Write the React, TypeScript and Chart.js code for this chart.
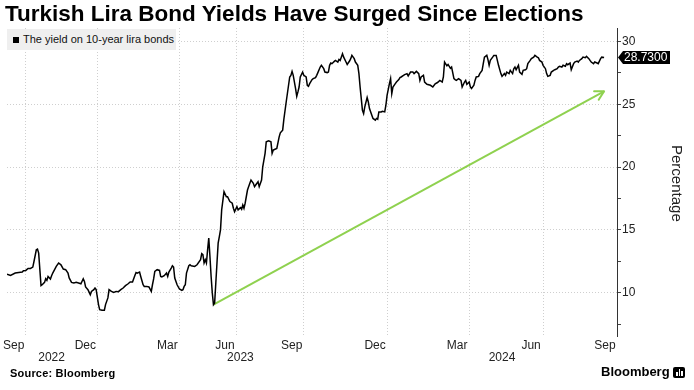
import React, { useEffect, useRef } from 'react';
import { Chart, registerables } from 'chart.js';

Chart.register(...registerables);

const TITLE = 'Turkish Lira Bond Yields Have Surged Since Elections';
const SERIES_LABEL = 'The yield on 10-year lira bonds';
const Y_AXIS_TITLE = 'Percentage';
const SOURCE = 'Source: Bloomberg';
const BRAND = 'Bloomberg';

// observation index (trading-day counter) and 10y lira bond yield, %
const obsIndex = [
  0, 3, 7, 10, 13, 14, 16, 18, 20, 22, 23, 25, 26, 27, 29, 30, 32, 33, 34, 35, 37, 38, 39, 42, 44, 46, 48, 50, 52, 53,
  55, 57, 59, 61, 63, 65, 66, 67, 69, 71, 72, 74, 75, 76, 78, 79, 81, 83, 84, 86, 87, 89, 91, 93, 95, 97, 99, 101, 103, 105,
  107, 109, 110, 111, 113, 114, 116, 117, 119, 121, 123, 124, 125, 126, 128, 130, 131, 132, 134, 136, 137, 138, 140, 141, 142, 143, 145, 147, 149, 150,
  151, 152, 153, 155, 156, 157, 160, 162, 165, 166, 167, 168, 169, 170, 171, 172, 173, 174, 175, 176, 177, 178, 179, 180, 181, 182, 183, 185, 187, 188,
  190, 192, 193, 194, 196, 197, 199, 200, 201, 202, 203, 205, 207, 208, 210, 211, 212, 214, 215, 217, 218, 219, 220, 221, 223, 225, 226, 227, 228, 230,
  232, 233, 235, 236, 238, 241, 242, 243, 244, 246, 247, 248, 249, 250, 252, 253, 255, 256, 257, 258, 260, 261, 263, 264, 265, 267, 268, 270, 271, 273,
  274, 275, 276, 277, 279, 280, 282, 283, 284, 286, 287, 289, 290, 292, 293, 294, 296, 297, 299, 300, 301, 302, 303, 304, 305, 307, 308, 309, 311, 312,
  314, 315, 316, 317, 319, 320, 322, 323, 324, 326, 327, 328, 329, 331, 332, 334, 335, 336, 338, 339, 341, 342, 344, 346, 347, 349, 351, 352, 353, 355,
  356, 358, 361, 363, 365, 367, 369, 371, 372, 373, 375, 376, 378, 379, 381, 382, 383, 385, 387, 388, 390, 391, 392, 394, 395, 396, 398, 399, 400, 402,
  403, 405, 406, 407, 409, 410, 411, 412, 414, 415, 417, 418, 419, 421, 422, 424, 425, 426, 428, 429, 431, 432, 433, 434, 436, 437, 439, 440, 442, 443,
  444, 446, 447, 449, 450, 452, 453, 454, 456, 457, 459, 460, 461, 463, 464, 466, 467, 469, 470, 471, 473, 474, 476, 477, 478, 480, 481, 483, 484, 486,
  487, 488, 490, 491, 493, 494, 496, 497, 498, 500, 501, 503, 504, 506, 507, 509,
];

const yieldPct = [
  11.48, 11.37, 11.56, 11.61, 11.64, 11.75, 11.77, 11.93, 11.93, 12.04, 12.48, 13.41, 13.47, 13.15, 10.56, 10.63, 10.82, 11.11, 10.98, 11.29, 11.09, 11.35, 11.56, 12.09, 12.36, 12.22, 11.88, 11.83, 11.56, 11.17,
  10.82, 10.77, 10.82, 10.77, 10.71, 11.11, 10.9, 10.45, 10.24, 9.84, 10.1, 10.24, 10.37, 10.24, 9.05, 8.65, 8.6, 8.6, 9.05, 9.58, 10.24, 10.1, 10.02, 10.1, 10.08, 10.24, 10.37, 10.56, 10.69, 10.85,
  10.85, 11.37, 11.61, 11.56, 11.64, 11.29, 10.63, 10.5, 10.5, 10.45, 10.1, 10.63, 11.09, 11.69, 11.83, 11.77, 11.29, 11.25, 11.35, 11.56, 11.29, 11.64, 11.96, 12.14, 12.04, 11.17, 10.63, 10.29, 10.18, 10.24,
  10.5, 10.63, 11.56, 12.14, 12.22, 12.14, 12.09, 12.22, 12.62, 13.1, 13.02, 12.36, 12.62, 12.36, 13.41, 14.34, 12.88, 11.29, 9.98, 9.05, 9.18, 10.77, 12.36, 13.94, 14.47, 15.0, 16.59, 18.04, 17.64, 17.64,
  17.25, 17.12, 16.72, 16.45, 16.85, 16.59, 16.77, 16.64, 16.98, 16.72, 17.12, 18.17, 18.71, 18.97, 18.71, 18.44, 18.57, 18.83, 18.44, 18.97, 20.02, 20.56, 21.09, 22.01, 22.09, 22.01, 21.09, 21.35, 21.4, 21.48,
  22.4, 22.72, 22.94, 23.8, 25.18, 27.17, 27.3, 27.62, 27.3, 26.25, 25.63, 25.98, 26.37, 27.17, 27.56, 27.3, 27.17, 26.51, 26.43, 26.64, 26.96, 27.04, 27.12, 27.3, 27.52, 27.96, 28.1, 27.83, 27.56, 27.52,
  27.56, 28.1, 28.28, 28.23, 28.41, 28.49, 28.36, 28.57, 28.49, 29.02, 28.75, 28.36, 28.17, 28.44, 28.63, 28.89, 28.63, 28.36, 28.1, 27.44, 26.37, 25.45, 24.52, 24.26, 24.79, 25.53, 25.18, 24.66, 24.13, 23.87,
  23.73, 23.87, 23.81, 24.39, 24.39, 24.44, 24.39, 24.92, 25.71, 26.64, 27.04, 25.85, 26.37, 26.64, 26.77, 26.96, 27.12, 27.17, 27.3, 27.36, 27.44, 27.25, 27.56, 27.56, 27.44, 27.62, 27.44, 26.9, 27.17, 27.3,
  26.77, 26.59, 26.51, 26.37, 26.63, 26.73, 26.9, 26.77, 27.17, 28.36, 28.06, 28.17, 27.86, 27.96, 27.04, 26.96, 26.9, 27.04, 26.9, 26.37, 26.77, 26.9, 26.59, 26.77, 26.37, 26.25, 26.51, 26.9, 27.17, 27.22,
  27.44, 27.7, 28.23, 28.75, 28.89, 28.55, 28.1, 28.49, 28.75, 28.89, 28.89, 28.49, 28.1, 27.44, 27.22, 27.44, 27.3, 27.56, 27.44, 27.7, 27.44, 27.83, 27.96, 27.75, 28.1, 27.56, 27.38, 27.7, 27.75, 27.83,
  28.23, 28.49, 28.63, 28.75, 28.89, 28.75, 28.7, 28.49, 28.36, 28.1, 27.83, 27.44, 27.22, 27.3, 27.56, 27.7, 27.75, 27.83, 27.96, 28.02, 27.96, 28.1, 28.02, 28.23, 28.15, 28.28, 27.75, 28.23, 28.36, 28.44,
  28.36, 28.49, 28.63, 28.75, 28.7, 28.81, 28.63, 28.49, 28.36, 28.23, 28.36, 28.28, 28.23, 28.63, 28.75, 28.73,
];

const monthTickIdx = [16, 77, 147, 196, 253, 324, 394, 457, 520];
const monthTickLabels = ['Sep', 'Dec', 'Mar', 'Jun', 'Sep', 'Dec', 'Mar', 'Jun', 'Sep'];
const yearLabelIdx = [38, 199, 422];
const yearLabels = ['2022', '2023', '2024'];
const trendIdx = [176, 509];
const trendPct = [9.05, 26.03];
const lastValue = 28.73;

const X_MIN = 0;
const X_MAX = 520;
const Y_MIN = 6.55;
const Y_MAX = 31.07;
const Y_STEP = 2.5;

const FONT = '"Liberation Sans", Arial, sans-serif';
const GREEN = '#8fd14f';
const GRID = '#cfcfcf';
const TEXT = '#222';

const overlayPlugin = {
  id: 'overlay',
  afterDatasetsDraw(chart: any) {
    const { ctx, scales } = chart;
    const xs = scales.x;
    const ys = scales.y;
    const x1 = xs.getPixelForValue(trendIdx[0]);
    const y1 = ys.getPixelForValue(trendPct[0]);
    const x2 = xs.getPixelForValue(trendIdx[1]);
    const y2 = ys.getPixelForValue(trendPct[1]);
    const ang = Math.atan2(y2 - y1, x2 - x1);
    const L = 10;
    const spread = 0.5;
    ctx.save();
    ctx.strokeStyle = GREEN;
    ctx.lineWidth = 2;
    ctx.lineCap = 'round';
    ctx.lineJoin = 'round';
    ctx.beginPath();
    ctx.moveTo(x2 - L * Math.cos(ang - spread), y2 - L * Math.sin(ang - spread));
    ctx.lineTo(x2, y2);
    ctx.lineTo(x2 - L * Math.cos(ang + spread), y2 - L * Math.sin(ang + spread));
    ctx.stroke();
    ctx.restore();
  },
  afterDraw(chart: any) {
    const { ctx, chartArea, scales } = chart;
    const xs = scales.x;
    const ys = scales.y;
    ctx.save();
    ctx.font = `12px ${FONT}`;
    ctx.fillStyle = TEXT;
    ctx.textAlign = 'center';
    ctx.textBaseline = 'middle';
    yearLabels.forEach((t, i) => {
      ctx.fillText(t, xs.getPixelForValue(yearLabelIdx[i]), chartArea.bottom + 22);
    });
    // last value tag
    const yT = ys.getPixelForValue(lastValue);
    const x0 = chartArea.right + 1;
    const h = 6.5;
    ctx.fillStyle = '#000';
    ctx.beginPath();
    ctx.moveTo(x0, yT);
    ctx.lineTo(x0 + 5, yT - h);
    ctx.lineTo(x0 + 52, yT - h);
    ctx.lineTo(x0 + 52, yT + h);
    ctx.lineTo(x0 + 5, yT + h);
    ctx.closePath();
    ctx.fill();
    ctx.fillStyle = '#fff';
    ctx.textAlign = 'left';
    ctx.fillText(lastValue.toFixed(4), x0 + 6, yT + 0.5);
    ctx.restore();
  },
};

export default function App() {
  const ref = useRef<HTMLCanvasElement>(null);

  useEffect(() => {
    if (!ref.current) return;
    const chart = new Chart(ref.current, {
      type: 'line',
      data: {
        datasets: [
          {
            label: SERIES_LABEL,
            data: obsIndex.map((x, i) => ({ x, y: yieldPct[i] })),
            borderColor: '#000',
            borderWidth: 1.5,
            pointRadius: 0,
            tension: 0,
          },
          {
            label: 'trend',
            data: trendIdx.map((x, i) => ({ x, y: trendPct[i] })),
            borderColor: GREEN,
            borderWidth: 2,
            pointRadius: 0,
            tension: 0,
          },
        ],
      },
      options: {
        animation: false,
        responsive: false,
        maintainAspectRatio: false,
        layout: { padding: { left: 7, top: 28, right: 47, bottom: 24 } },
        plugins: { legend: { display: false }, tooltip: { enabled: false } },
        scales: {
          x: {
            type: 'linear',
            min: X_MIN,
            max: X_MAX,
            grid: { color: GRID, drawTicks: false, lineWidth: 1 },
            border: { display: false, dash: [1, 2] },
            afterBuildTicks: (s: any) => {
              s.ticks = monthTickIdx.map((v) => ({ value: v }));
            },
            afterFit: (s: any) => {
              s.height = 30;
            },
            ticks: {
              autoSkip: false,
              maxRotation: 0,
              padding: 2,
              labelOffset: -12,
              color: TEXT,
              font: { family: FONT, size: 12 },
              callback: (v: any) => {
                const i = monthTickIdx.indexOf(Number(v));
                return i >= 0 ? monthTickLabels[i] : '';
              },
            },
          },
          y: {
            type: 'linear',
            position: 'right',
            min: Y_MIN,
            max: Y_MAX,
            afterFit: (s: any) => {
              s.width = 30;
            },
            grid: {
              color: (c: any) => (c.tick && Math.abs(c.tick.value % 5) < 1e-6 ? GRID : 'rgba(0,0,0,0)'),
              tickColor: '#444',
              tickLength: 4,
              drawTicks: true,
              tickBorderDash: [],
            },
            border: { display: true, color: '#333', width: 1, dash: [1, 2] },
            ticks: {
              stepSize: Y_STEP,
              includeBounds: false,
              padding: 1,
              color: TEXT,
              font: { family: FONT, size: 12 },
              callback: (v: any) => (Math.abs(Number(v) % 5) < 1e-6 ? String(v) : ''),
            },
          },
        },
      },
      plugins: [overlayPlugin],
    } as any);
    return () => chart.destroy();
  }, []);

  return (
    <div
      style={{
        position: 'fixed',
        left: 0,
        top: 0,
        width: 694,
        height: 390,
        background: '#fff',
        overflow: 'hidden',
        fontFamily: FONT,
      }}
    >
      <canvas ref={ref} width={694} height={390} style={{ position: 'absolute', left: 0, top: 0, width: 694, height: 390 }} />
      <div
        style={{
          position: 'absolute',
          left: 5,
          top: 2,
          fontSize: 22.5,
          fontWeight: 700,
          lineHeight: '24px',
          whiteSpace: 'nowrap',
          color: '#000',
        }}
      >
        {TITLE}
      </div>
      <div style={{ position: 'absolute', left: 7, top: 29, width: 169, height: 21, background: '#efefef' }}>
        <div style={{ position: 'absolute', left: 6, top: 8, width: 6, height: 6, background: '#000' }} />
        <div
          style={{
            position: 'absolute',
            left: 16,
            top: 0,
            lineHeight: '21px',
            fontSize: 11,
            color: '#111',
            whiteSpace: 'nowrap',
          }}
        >
          {SERIES_LABEL}
        </div>
      </div>
      <div
        style={{
          position: 'absolute',
          left: 669,
          top: 145,
          writingMode: 'vertical-rl',
          fontSize: 15,
          lineHeight: '16px',
          color: TEXT,
          whiteSpace: 'nowrap',
        }}
      >
        {Y_AXIS_TITLE}
      </div>
      <div
        style={{
          position: 'absolute',
          left: 10,
          top: 367,
          fontSize: 11,
          lineHeight: '13px',
          fontWeight: 700,
          letterSpacing: 0.2,
          color: '#000',
          whiteSpace: 'nowrap',
        }}
      >
        {SOURCE}
      </div>
      <div
        style={{
          position: 'absolute',
          left: 601,
          top: 365,
          fontSize: 13,
          lineHeight: '13px',
          fontWeight: 700,
          color: '#000',
          whiteSpace: 'nowrap',
        }}
      >
        {BRAND}
      </div>
      <div
        style={{
          position: 'absolute',
          left: 673,
          top: 367,
          width: 12,
          height: 11,
          background: '#000',
          borderRadius: 2,
        }}
      >
        <div style={{ position: 'absolute', left: 3, top: 5, width: 1.5, height: 4, background: '#fff' }} />
        <div style={{ position: 'absolute', left: 5.5, top: 2, width: 1.5, height: 7, background: '#fff' }} />
        <div style={{ position: 'absolute', left: 8, top: 4, width: 1.5, height: 5, background: '#fff' }} />
      </div>
    </div>
  );
}
